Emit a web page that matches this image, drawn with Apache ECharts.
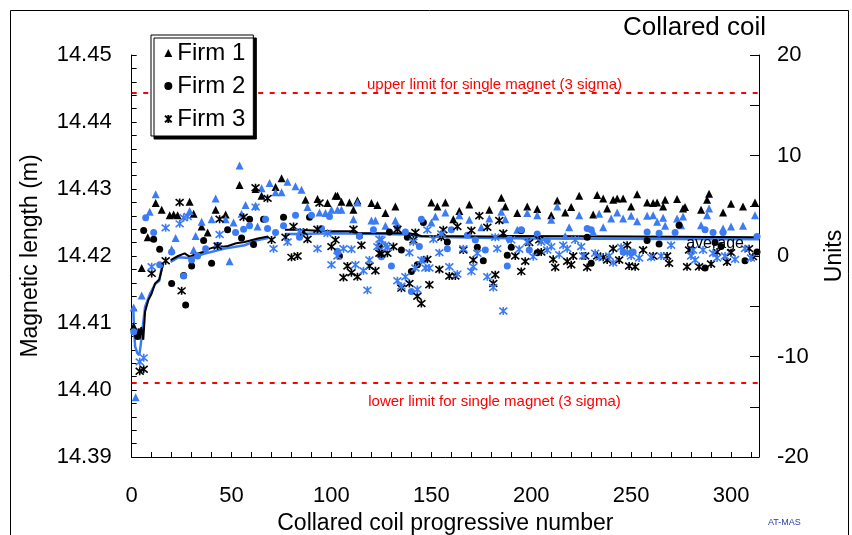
<!DOCTYPE html>
<html>
<head>
<meta charset="utf-8">
<script src="https://cdn.jsdelivr.net/npm/echarts@6/dist/echarts.min.js"></script>
<style>
  html, body { margin: 0; padding: 0; background: #fff; }
  #chart { width: 852px; height: 535px; }
</style>
</head>
<body>
<div id="chart"></div>
<script>
// Magnetic length of collared coils, per firm, [coil number, length in m]
const firm1Black = [[1,14.4095],[5,14.4182],[8,14.4228],[12,14.4279],[15,14.4269],[19,14.4261],[21,14.4262],[23,14.4261],[29,14.4281],[31,14.4263],[35,14.4244],[38,14.4235],[42,14.4269],[47,14.4262],[54,14.4306],[62,14.4300],[65,14.4290],[72,14.4303],[75,14.4316],[87,14.4284],[93,14.4285],[98,14.4279],[102,14.4290],[103,14.4290],[105,14.4281],[109,14.4280],[111,14.4269],[113,14.4283],[120,14.4279],[123,14.4276],[127,14.4264],[132,14.4274],[150,14.4280],[153,14.4274],[157,14.4280],[161,14.4255],[164,14.4267],[169,14.4277],[179,14.4269],[185,14.4287],[187,14.4274],[193,14.4264],[198,14.4274],[203,14.4270],[210,14.4261],[213,14.4283],[217,14.4265],[220,14.4273],[224,14.4290],[231,14.4262],[233,14.4291],[236,14.4286],[238,14.4271],[241,14.4284],[243,14.4286],[246,14.4286],[250,14.4274],[253,14.4292],[258,14.4280],[261,14.4279],[263,14.4280],[266,14.4274],[267,14.4284],[273,14.4285],[276,14.4271],[277,14.4273],[285,14.4269],[288,14.4284],[289,14.4293],[296,14.4265],[300,14.4278],[306,14.4274],[312,14.4280]];
const firm1Blue = [[1,14.4123],[2,14.3989],[5,14.4141],[9,14.4266],[12,14.4292],[20,14.4210],[22,14.4227],[29,14.4267],[31,14.4209],[32,14.4230],[35,14.4251],[40,14.4255],[42,14.4286],[47,14.4255],[49,14.4192],[51,14.4250],[54,14.4335],[55,14.4263],[57,14.4276],[62,14.4275],[63,14.4244],[65,14.4301],[69,14.4309],[72,14.4295],[75,14.4295],[78,14.4311],[82,14.4304],[85,14.4299],[88,14.4273],[94,14.4265],[97,14.4264],[100,14.4269],[103,14.4269],[105,14.4269],[111,14.4255],[113,14.4280],[120,14.4253],[122,14.4253],[127,14.4245],[132,14.4253],[150,14.4250],[152,14.4259],[157,14.4265],[164,14.4261],[169,14.4254],[175,14.4243],[179,14.4256],[185,14.4266],[187,14.4255],[193,14.4239],[198,14.4264],[203,14.4261],[210,14.4254],[213,14.4274],[217,14.4230],[219,14.4243],[224,14.4261],[231,14.4236],[234,14.4263],[236,14.4243],[240,14.4256],[243,14.4265],[246,14.4256],[250,14.4260],[253,14.4252],[258,14.4260],[261,14.4261],[263,14.4251],[266,14.4257],[267,14.4245],[273,14.4256],[275,14.4246],[276,14.4259],[285,14.4246],[288,14.4261],[289,14.4271],[296,14.4241],[300,14.4244],[306,14.4245],[312,14.4261]];
const firm2Black = [[3,14.4080],[6,14.4238],[11,14.4225],[14,14.4210],[20,14.4159],[26,14.4171],[27,14.4127],[30,14.4185],[36,14.4223],[40,14.4189],[48,14.4239],[55,14.4227],[59,14.4255],[61,14.4217],[66,14.4255],[76,14.4258],[89,14.4258],[104,14.4200],[114,14.4230],[124,14.4214],[129,14.4236],[135,14.4209],[138,14.4228],[140,14.4177],[143,14.4187],[146,14.4250],[158,14.4221],[173,14.4213],[176,14.4193],[188,14.4201],[190,14.4213],[195,14.4238],[203,14.4205],[228,14.4228],[230,14.4189],[258,14.4223],[264,14.4218],[274,14.4246],[287,14.4182],[292,14.4220],[295,14.4214],[307,14.4193],[313,14.4206]];
const firm2Blue = [[1,14.4087],[7,14.4257],[11,14.4235],[14,14.4187],[20,14.4206],[26,14.4170],[30,14.4194],[33,14.4200],[37,14.4211],[43,14.4216],[52,14.4235],[56,14.4240],[59,14.4245],[67,14.4255],[68,14.4241],[72,14.4235],[76,14.4245],[82,14.4261],[84,14.4228],[90,14.4261],[95,14.4241],[99,14.4259],[103,14.4207],[114,14.4230],[121,14.4239],[125,14.4199],[130,14.4185],[133,14.4243],[137,14.4236],[140,14.4147],[144,14.4214],[145,14.4255],[146,14.4194],[158,14.4211],[160,14.4239],[168,14.4231],[172,14.4224],[177,14.4209],[188,14.4185],[189,14.4225],[195,14.4239],[199,14.4209],[203,14.4233],[208,14.4223],[228,14.4241],[230,14.4239],[246,14.4206],[250,14.4205],[251,14.4206],[258,14.4236],[264,14.4234],[272,14.4235],[287,14.4239],[291,14.4235],[296,14.4235],[313,14.4229]];
const firm3Black = [[4,14.4028],[6,14.4031],[10,14.4174],[17,14.4193],[24,14.4280],[25,14.4148],[43,14.4215],[44,14.4255],[56,14.4258],[62,14.4302],[68,14.4286],[70,14.4224],[77,14.4228],[80,14.4198],[81,14.4244],[83,14.4200],[86,14.4236],[88,14.4225],[93,14.4240],[94,14.4279],[100,14.4214],[102,14.4224],[106,14.4168],[108,14.4185],[110,14.4175],[111,14.4240],[113,14.4169],[115,14.4216],[119,14.4185],[122,14.4178],[124,14.4204],[125,14.4203],[128,14.4204],[131,14.4214],[133,14.4240],[135,14.4152],[139,14.4159],[141,14.4224],[142,14.4235],[143,14.4140],[145,14.4129],[148,14.4195],[149,14.4157],[154,14.4180],[155,14.4228],[156,14.4239],[159,14.4170],[162,14.4170],[163,14.4244],[166,14.4209],[170,14.4238],[171,14.4194],[174,14.4260],[178,14.4243],[181,14.4159],[182,14.4172],[184,14.4253],[186,14.4234],[192,14.4200],[195,14.4177],[197,14.4192],[199,14.4220],[204,14.4224],[205,14.4206],[211,14.4195],[212,14.4183],[218,14.4192],[220,14.4187],[221,14.4200],[227,14.4200],[228,14.4183],[233,14.4200],[236,14.4198],[238,14.4194],[241,14.4211],[244,14.4194],[248,14.4216],[249,14.4185],[252,14.4184],[256,14.4209],[261,14.4200],[268,14.4200],[269,14.4189],[278,14.4184],[279,14.4209],[284,14.4184],[290,14.4188],[293,14.4206],[298,14.4191],[300,14.4205],[309,14.4211],[311,14.4199]];
const firm3Blue = [[4,14.4042],[6,14.4048],[10,14.4184],[17,14.4242],[24,14.4248],[26,14.4257],[28,14.4259],[44,14.4232],[62,14.4273],[71,14.4211],[78,14.4221],[84,14.4236],[93,14.4211],[98,14.4234],[100,14.4187],[103,14.4200],[106,14.4211],[110,14.4210],[112,14.4187],[116,14.4178],[118,14.4149],[119,14.4194],[123,14.4214],[124,14.4225],[125,14.4224],[127,14.4216],[128,14.4213],[133,14.4163],[135,14.4155],[137,14.4169],[139,14.4205],[141,14.4221],[142,14.4182],[143,14.4150],[145,14.4194],[147,14.4182],[148,14.4239],[149,14.4182],[151,14.4225],[154,14.4205],[155,14.4233],[159,14.4184],[163,14.4173],[166,14.4211],[170,14.4177],[171,14.4184],[173,14.4204],[178,14.4169],[181,14.4153],[182,14.4228],[183,14.4211],[186,14.4118],[190,14.4224],[194,14.4210],[198,14.4221],[201,14.4199],[205,14.4221],[208,14.4209],[210,14.4214],[214,14.4202],[216,14.4216],[218,14.4211],[222,14.4224],[225,14.4214],[226,14.4200],[232,14.4204],[234,14.4198],[239,14.4200],[241,14.4190],[245,14.4213],[248,14.4205],[250,14.4200],[254,14.4197],[260,14.4198],[265,14.4200],[270,14.4216],[280,14.4200],[281,14.4209],[282,14.4194],[286,14.4209],[291,14.4204],[293,14.4197],[297,14.4200],[302,14.4195],[307,14.4211],[310,14.4197]];

// Running averages (black and blue), null marks a break in the trace
const averageBlack = [[0.5,14.4094],[1.6,14.4081],[2.8,14.4080],[3.5,14.4092],[4.2,14.4081],[4.8,14.4094],[5.8,14.4075],[6.7,14.4117],[8.3,14.4134],[10,14.4144],[11.7,14.4159],[13.8,14.4165],[15,14.4179],[15.8,14.4189],[17.5,null],[19.5,14.4194],[23.2,14.4200],[26.5,14.4204],[29,14.4199],[32.3,14.4203],[35.7,14.4206],[39,14.4211],[42.3,14.4214],[45.7,14.4214],[48.2,14.4215],[52.3,14.4219],[56.5,14.4221],[63.2,14.4226],[68.3,14.4229],[72,null],[76.7,14.4239],[82,14.4239],[100,14.4237],[109,14.4237],[114,14.4234],[139,14.4234],[145,14.4230],[181,14.4229],[188,14.4230],[250,14.4229],[314,14.4228]];
const averageBlue = [[0.8,14.4122],[1.2,14.4090],[1.7,14.4065],[2.8,14.4055],[3.8,14.4052],[4.5,14.4067],[5.5,14.4067],[6.7,14.4124],[9.2,14.4144],[11.7,14.4158],[13.8,14.4163],[15,14.4182],[15.8,14.4189],[17.5,null],[19.5,14.4191],[23.2,14.4198],[29,14.4197],[35.7,14.4203],[46.5,14.4211],[56.5,14.4216],[63.2,14.4224],[68.3,14.4227],[72,null],[76.7,14.4233],[82,14.4233],[100,14.4234],[139,14.4232],[145,14.4229],[181,14.4227],[200,14.4226],[314,14.4225]];

// Single-magnet acceptance limits (average +/- 3 sigma) and the "average" note
const upperLimit = 14.4443;
const lowerLimit = 14.4011;
const averageNote = [292, 14.4218];

// Axis ranges and ticks
const coilRange = [0, 314];
const coilStep = 50;
const lengthRange = [14.39, 14.45];
const lengthStep = 0.01;
const unitsRange = [-20, 20];
const unitsStep = 10;

const BLUE = '#3b7cf4';
const FONT = '"Liberation Sans", Arial, sans-serif';
const STAR = 'path://M0,0L10,10M10,0L0,10M5,-1L5,11';

const chart = echarts.init(document.getElementById('chart'), null, { renderer: 'canvas' });

function scatter(name, data, symbol, color, size) {
  const stroked = symbol === STAR;
  return {
    name: name,
    type: 'scatter',
    data: data,
    symbol: symbol,
    symbolSize: size,
    z: 3,
    itemStyle: stroked
      ? { color: 'rgba(0,0,0,0)', borderColor: color, borderWidth: 1.6, opacity: 1 }
      : { color: color, opacity: 1 },
    emphasis: { disabled: true },
    silent: true
  };
}

const limitLabelStyle = {
  color: '#ff0000',
  fontFamily: FONT,
  fontSize: 15
};
const hiddenLine = { color: 'rgba(0,0,0,0)', width: 0 };

const option = {
  animation: false,
  backgroundColor: '#fff',
  textStyle: { fontFamily: FONT },
  title: {
    text: 'Collared coil',
    left: 623,
    top: 15,
    padding: 0,
    textStyle: { fontFamily: FONT, fontSize: 26, fontWeight: 'normal', color: '#000' }
  },
  legend: {
    orient: 'vertical',
    left: 151,
    top: 35,
    z: 10,
    padding: [6, 8, 5, 13],
    itemGap: 9,
    itemWidth: 8,
    itemHeight: 8,
    borderColor: '#000',
    borderWidth: 1,
    backgroundColor: '#fff',
    shadowColor: '#000',
    shadowOffsetX: 3,
    shadowOffsetY: 3,
    shadowBlur: 0.01,
    textStyle: { fontFamily: FONT, fontSize: 24, color: '#000' },
    data: [
      { name: 'Firm 1', icon: 'triangle' },
      { name: 'Firm 2', icon: 'circle' },
      { name: 'Firm 3', icon: STAR }
    ],
    selectedMode: false
  },
  grid: { left: 131.7, right: 93, top: 55, bottom: 78, containLabel: false, outerBoundsMode: 'none' },
  xAxis: {
    type: 'value',
    min: coilRange[0],
    max: coilRange[1],
    interval: coilStep,
    name: 'Collared coil progressive number',
    nameLocation: 'middle',
    nameGap: 53,
    nameTextStyle: { fontFamily: FONT, fontSize: 23, color: '#000' },
    axisLine: { show: true, onZero: false, lineStyle: { color: '#000', width: 1 } },
    axisTick: { show: true, inside: true, length: 5, lineStyle: { color: '#000' } },
    minorTick: { show: true, splitNumber: 5, length: 5, lineStyle: { color: '#000' } },
    axisLabel: { fontFamily: FONT, fontSize: 22, color: '#000', margin: 28, showMaxLabel: false },
    splitLine: { show: false }
  },
  yAxis: [
    {
      type: 'value',
      min: lengthRange[0],
      max: lengthRange[1],
      interval: lengthStep,
      name: 'Magnetic length (m)',
      nameLocation: 'middle',
      nameRotate: 90,
      nameGap: 90,
      nameTextStyle: { fontFamily: FONT, fontSize: 23, color: '#000' },
      axisLine: { show: true, onZero: false, lineStyle: { color: '#000', width: 1 } },
      axisTick: { show: true, inside: true, length: 5, lineStyle: { color: '#000' } },
      minorTick: { show: true, splitNumber: 5, length: 5, lineStyle: { color: '#000' } },
      axisLabel: {
        fontFamily: FONT, fontSize: 22, color: '#000', margin: 20,
        formatter: v => v.toFixed(2)
      },
      splitLine: { show: false }
    },
    {
      type: 'value',
      position: 'right',
      min: unitsRange[0],
      max: unitsRange[1],
      interval: unitsStep,
      name: 'Units',
      nameLocation: 'middle',
      nameRotate: 90,
      nameGap: 64,
      nameTextStyle: { fontFamily: FONT, fontSize: 23, color: '#000' },
      axisLine: { show: true, onZero: false, lineStyle: { color: '#000', width: 1 } },
      axisTick: { show: true, inside: true, length: 9, lineStyle: { color: '#000' } },
      minorTick: { show: true, splitNumber: 2, length: 9, lineStyle: { color: '#000' } },
      axisLabel: { fontFamily: FONT, fontSize: 22, color: '#000', margin: 18 },
      splitLine: { show: false }
    }
  ],
  series: [
    {
      name: 'average (blue)',
      type: 'line',
      data: averageBlue,
      yAxisIndex: 0,
      showSymbol: false,
      connectNulls: false,
      z: 1,
      lineStyle: { color: BLUE, width: 2.5 },
      silent: true
    },
    {
      name: 'average',
      type: 'line',
      data: averageBlack,
      yAxisIndex: 0,
      showSymbol: false,
      connectNulls: false,
      z: 2,
      lineStyle: { color: '#000', width: 2 },
      silent: true,
      markLine: {
        silent: true,
        symbol: 'none',
        precision: 4,
        animation: false,
        lineStyle: { color: '#ff0000', width: 2, type: [5, 6.5] },
        label: { show: false },
        data: [
          { yAxis: upperLimit },
          { yAxis: lowerLimit },
          [
            { coord: [120, upperLimit], lineStyle: hiddenLine,
              label: { show: true, position: 'insideMiddleTop', distance: 1, formatter: 'upper limit for single magnet (3 sigma)', ...limitLabelStyle } },
            { coord: [243.2, upperLimit] }
          ],
          [
            { coord: [120, lowerLimit], lineStyle: hiddenLine,
              label: { show: true, position: 'insideMiddleBottom', distance: 12, formatter: 'lower limit for single magnet (3 sigma)', ...limitLabelStyle } },
            { coord: [243.2, lowerLimit] }
          ]
        ]
      },
      markPoint: {
        silent: true,
        symbol: 'circle',
        symbolSize: 0,
        label: { show: true, position: 'inside', formatter: 'average', color: '#000', fontFamily: FONT, fontSize: 16 },
        data: [{ coord: averageNote }]
      }
    },
    scatter('Firm 1', firm1Black, 'triangle', '#000', 8),
    scatter('Firm 1 (blue)', firm1Blue, 'triangle', BLUE, 8),
    scatter('Firm 2', firm2Black, 'circle', '#000', 7),
    scatter('Firm 2 (blue)', firm2Blue, 'circle', BLUE, 7),
    scatter('Firm 3', firm3Black, STAR, '#000', 8),
    scatter('Firm 3 (blue)', firm3Blue, STAR, BLUE, 8)
  ],
  graphic: [
    {
      type: 'rect',
      silent: true,
      shape: { x: 10.5, y: 10.5, width: 838, height: 600 },
      style: { fill: 'none', stroke: '#000', lineWidth: 1 }
    },
    {
      type: 'text',
      silent: true,
      left: 768,
      top: 518,
      style: { text: 'AT-MAS', fill: '#2c3aa8', font: '9px ' + FONT }
    }
  ]
};

chart.setOption(option);
</script>
</body>
</html>
